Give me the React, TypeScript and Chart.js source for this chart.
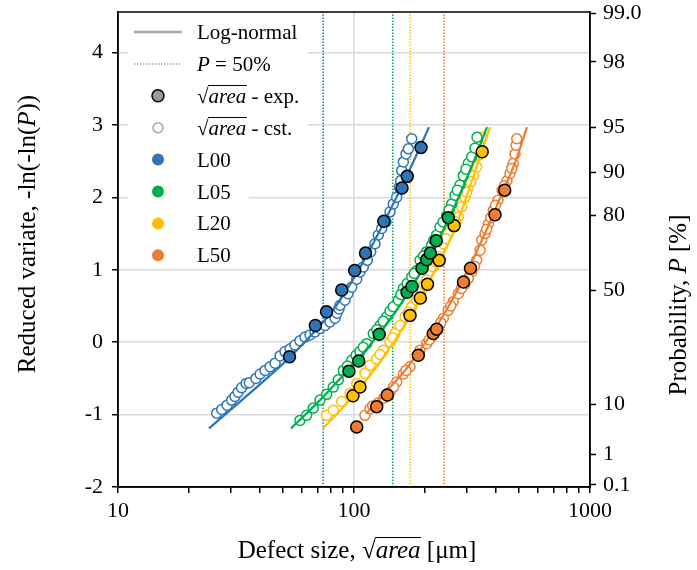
import React, { useEffect, useRef } from 'react';
import { Chart, registerables } from 'chart.js';

Chart.register(...registerables);

const FONT = '"Liberation Serif", "Times New Roman", "DejaVu Serif", serif';
const TICK_FS = 22;
const LEG_FS = 21;
const TITLE_FS = 25;

// ---------- axes ----------
const X_MIN = 10;
const X_MAX = 1000;
const Y_MIN = -2;
const Y_MAX = 4.56;
const xTickValues = [10, 20, 30, 40, 50, 60, 70, 80, 90, 100, 200, 300, 400, 500, 600, 700, 800, 900, 1000];
const xTickLabels = [10, 100, 1000];
const leftTicks = [-2, -1, 0, 1, 2, 3, 4];
const probTickPos = [4.54, 3.87, 2.97, 2.35, 1.75, 0.72, -0.86, -1.55, -1.97];
const probTickLabels = ['99.0', '98', '95', '90', '80', '50', '10', '1', '0.1'];

// ---------- series ----------
const seriesNames = ['L00', 'L05', 'L20', 'L50'];
const seriesColors = ['#2E75B6', '#00B050', '#FFC000', '#ED7D31'];
const p50Size = [74, 146, 173, 241];

// experimental sqrt(area)
const l00ExpX = [53.3, 68.6, 76.5, 88.7, 100.7, 111.9, 133.8, 159.7, 168.1, 192.3];
const l00ExpY = [-0.2, 0.23, 0.42, 0.72, 0.99, 1.23, 1.67, 2.13, 2.29, 2.69];
const l05ExpX = [95.2, 104.7, 127.9, 167.8, 176.1, 194.2, 203.3, 210.6, 223.2, 250.9];
const l05ExpY = [-0.4, -0.26, 0.11, 0.69, 0.77, 1.02, 1.14, 1.23, 1.4, 1.72];
const l20ExpX = [99.0, 106.0, 172.7, 191.0, 204.8, 229.6, 265.5, 349.3];
const l20ExpY = [-0.74, -0.62, 0.37, 0.61, 0.8, 1.13, 1.61, 2.63];
const l50ExpX = [102.7, 124.8, 138.4, 187.3, 216.8, 224.0, 291.1, 311.6, 395.8, 435.1];
const l50ExpY = [-1.17, -0.89, -0.73, -0.18, 0.12, 0.18, 0.83, 1.02, 1.76, 2.1];

// estimated (CT) sqrt(area)
const l00CstX = [26.2, 27.5, 29.0, 30.3, 31.3, 32.3, 33.4, 34.9, 36.0, 38.4, 40.0, 42.0, 44.1, 46.3, 48.6, 51.0, 53.6, 56.2, 59.0, 62.0, 65.1, 68.3, 71.8, 75.4, 79.1, 83.1, 84.7, 86.4, 87.3, 91.6, 94.3, 97.8, 102.7, 106.0, 109.5, 113.9, 117.7, 122.7, 126.8, 131.0, 136.6, 142.1, 146.7, 151.7, 155.6, 157.7, 159.3, 161.8, 166.1, 169.9, 175.6];
const l00CstY = [-0.98, -0.93, -0.87, -0.8, -0.75, -0.69, -0.63, -0.57, -0.56, -0.5, -0.44, -0.39, -0.34, -0.29, -0.19, -0.13, -0.09, -0.04, 0.02, 0.07, 0.1, 0.14, 0.19, 0.23, 0.28, 0.33, 0.4, 0.46, 0.51, 0.58, 0.67, 0.76, 0.87, 0.97, 1.04, 1.13, 1.25, 1.36, 1.48, 1.57, 1.66, 1.8, 1.91, 2.0, 2.14, 2.23, 2.37, 2.49, 2.6, 2.67, 2.81];
const l05CstX = [59.0, 63.0, 67.2, 71.8, 76.6, 81.7, 85.8, 90.1, 97.8, 102.0, 106.0, 113.2, 120.7, 128.9, 137.6, 142.1, 146.7, 154.1, 161.8, 167.8, 175.6, 184.4, 190.4, 203.3, 213.4, 224.0, 231.4, 238.4, 247.1, 259.4, 267.9, 281.3, 290.5, 305.0, 315.3, 325.6, 332.0, 93.8, 109.5, 124.8, 133.1, 158.0, 180.0, 197.0, 218.0, 253.0, 274.0, 298.0];
const l05CstY = [-1.08, -1.01, -0.91, -0.8, -0.72, -0.62, -0.52, -0.39, -0.25, -0.18, -0.13, -0.02, 0.12, 0.23, 0.35, 0.43, 0.49, 0.58, 0.74, 0.81, 0.9, 0.99, 1.13, 1.25, 1.34, 1.48, 1.59, 1.66, 1.75, 1.91, 2.03, 2.17, 2.3, 2.47, 2.56, 2.68, 2.83, -0.33, -0.07, 0.17, 0.29, 0.66, 0.95, 1.19, 1.41, 1.83, 2.1, 2.39];
const l20CstX = [76.6, 81.7, 88.7, 96.2, 102.7, 111.3, 116.9, 124.8, 133.1, 142.1, 149.2, 156.6, 164.5, 175.6, 184.4, 193.6, 203.3, 216.8, 227.7, 239.1, 250.9, 263.5, 276.7, 286.1, 295.4, 305.0, 320.3, 331.1, 335.3, 338.6, 347.6, 129.0, 146.0, 170.0, 198.0, 222.0, 245.0, 270.0, 300.0, 312.0];
const l20CstY = [-1.01, -0.94, -0.82, -0.71, -0.57, -0.43, -0.32, -0.23, -0.11, 0.0, 0.12, 0.23, 0.35, 0.49, 0.58, 0.72, 0.86, 1.04, 1.18, 1.36, 1.5, 1.59, 1.73, 1.87, 2.0, 2.14, 2.3, 2.42, 2.58, 2.72, 2.83, -0.17, 0.06, 0.42, 0.79, 1.11, 1.43, 1.66, 2.07, 2.22];
const l50CstX = [111.3, 116.9, 126.4, 142.1, 151.7, 161.8, 172.7, 190.4, 203.3, 213.4, 227.7, 239.1, 250.9, 263.5, 276.7, 295.4, 315.3, 331.1, 342.0, 347.6, 359.0, 370.7, 389.3, 407.6, 423.8, 444.9, 458.1, 473.2, 481.3, 486.0, 489.4, 120.0, 134.0, 147.0, 166.0, 208.0, 220.0, 233.0, 257.0, 285.0, 305.0, 324.0, 365.0, 380.0, 398.0, 434.0, 466.0];
const l50CstY = [-1.01, -0.92, -0.84, -0.69, -0.55, -0.44, -0.34, -0.11, -0.02, 0.07, 0.21, 0.33, 0.44, 0.56, 0.67, 0.8, 0.97, 1.13, 1.27, 1.41, 1.5, 1.63, 1.82, 1.96, 2.1, 2.23, 2.33, 2.47, 2.6, 2.72, 2.81, -0.88, -0.77, -0.62, -0.39, 0.03, 0.14, 0.27, 0.5, 0.74, 0.88, 1.05, 1.56, 1.72, 1.89, 2.16, 2.4];

// log-normal fits
const l00FitX = [24.3, 36.3, 53.0, 68.3, 83.1, 101.0, 122.7, 149.2, 177.8, 207.9];
const l00FitY = [-1.19, -0.7, -0.22, 0.15, 0.48, 0.91, 1.41, 1.96, 2.48, 2.97];
const l05FitX = [54.1, 71.8, 91.6, 116.9, 149.2, 181.3, 220.4, 267.9, 316.2, 366.2];
const l05FitY = [-1.19, -0.8, -0.43, -0.04, 0.41, 0.83, 1.32, 1.89, 2.44, 2.97];
const l20FitX = [73.9, 91.6, 116.9, 149.2, 181.3, 220.4, 267.9, 316.2, 377.0];
const l20FitY = [-1.19, -0.87, -0.46, 0.03, 0.47, 0.99, 1.57, 2.23, 2.97];
const l50FitX = [112.4, 135.3, 164.5, 200.0, 243.0, 295.4, 358.9, 415.5, 481.3, 541.0];
const l50FitY = [-0.99, -0.7, -0.39, -0.01, 0.41, 0.92, 1.5, 1.99, 2.48, 2.97];

const expX = [l00ExpX, l05ExpX, l20ExpX, l50ExpX];
const expY = [l00ExpY, l05ExpY, l20ExpY, l50ExpY];
const cstX = [l00CstX, l05CstX, l20CstX, l50CstX];
const cstY = [l00CstY, l05CstY, l20CstY, l50CstY];
const fitX = [l00FitX, l05FitX, l20FitX, l50FitX];
const fitY = [l00FitY, l05FitY, l20FitY, l50FitY];

const toPts = (xs: number[], ys: number[]) => xs.map((x, i) => ({ x, y: ys[i] }));

type Part = { t: string; it?: boolean; over?: boolean };

function fontOf(p: Part, fs: number) {
  return `${p.it ? 'italic ' : ''}${fs}px ${FONT}`;
}

function measureParts(ctx: CanvasRenderingContext2D, parts: Part[], fs: number) {
  let total = 0;
  for (const p of parts) {
    ctx.font = fontOf(p, fs);
    total += ctx.measureText(p.t).width;
  }
  return total;
}

function drawParts(ctx: CanvasRenderingContext2D, parts: Part[], x: number, baseline: number, fs: number, align: 'left' | 'center') {
  const total = measureParts(ctx, parts, fs);
  let cx = align === 'center' ? x - total / 2 : x;
  ctx.textAlign = 'left';
  ctx.textBaseline = 'alphabetic';
  ctx.fillStyle = '#000';
  ctx.strokeStyle = '#000';
  for (const p of parts) {
    ctx.font = fontOf(p, fs);
    const w = ctx.measureText(p.t).width;
    ctx.fillText(p.t, cx, baseline);
    if (p.over) {
      ctx.beginPath();
      ctx.lineWidth = 1;
      const oy = Math.round(baseline - 0.86 * fs) + 0.5;
      ctx.moveTo(cx - 0.5, oy);
      ctx.lineTo(cx + w + 0.5, oy);
      ctx.stroke();
    }
    cx += w;
  }
  return total;
}

const overlayPlugin = {
  id: 'overlay',
  afterDraw(chart: any) {
    const ctx: CanvasRenderingContext2D = chart.ctx;
    const a = chart.chartArea;
    ctx.save();

    // legend
    const lx0 = 134, lx1 = 182, mx = 158, tx = 197;
    const rowY = (i: number) => 32 + i * 31.9;
    ctx.fillStyle = '#fff';
    ctx.fillRect(128, 15, 180, 128);
    for (let i = 0; i < 4; i++) {
      ctx.font = `${LEG_FS}px ${FONT}`;
      const w = ctx.measureText(seriesNames[i]).width;
      ctx.fillStyle = '#fff';
      ctx.fillRect(128, rowY(4 + i) - 13, tx - 128 + w + 18, 26);
    }
    const gray = '#A6A6A6';
    const bl = (i: number) => rowY(i) + 7;
    // row 0: log-normal line
    ctx.strokeStyle = gray;
    ctx.lineWidth = 2.5;
    ctx.beginPath();
    ctx.moveTo(lx0, rowY(0));
    ctx.lineTo(lx1, rowY(0));
    ctx.stroke();
    drawParts(ctx, [{ t: 'Log-normal' }], tx, bl(0), LEG_FS, 'left');
    // row 1: dotted
    ctx.strokeStyle = gray;
    ctx.lineWidth = 1.5;
    ctx.setLineDash([1.5, 1.5]);
    ctx.beginPath();
    ctx.moveTo(lx0, rowY(1));
    ctx.lineTo(lx1, rowY(1));
    ctx.stroke();
    ctx.setLineDash([]);
    drawParts(ctx, [{ t: 'P', it: true }, { t: ' = 50%' }], tx, bl(1), LEG_FS, 'left');
    // row 2: exp marker
    ctx.beginPath();
    ctx.arc(mx, rowY(2), 6, 0, Math.PI * 2);
    ctx.fillStyle = '#999999';
    ctx.fill();
    ctx.strokeStyle = '#000';
    ctx.lineWidth = 1.5;
    ctx.stroke();
    drawParts(ctx, [{ t: '\u221A' }, { t: 'area', it: true, over: true }, { t: ' - exp.' }], tx, bl(2), LEG_FS, 'left');
    // row 3: cst marker
    ctx.beginPath();
    ctx.arc(mx, rowY(3), 5, 0, Math.PI * 2);
    ctx.fillStyle = '#fff';
    ctx.fill();
    ctx.strokeStyle = gray;
    ctx.lineWidth = 1.5;
    ctx.stroke();
    drawParts(ctx, [{ t: '\u221A' }, { t: 'area', it: true, over: true }, { t: ' - cst.' }], tx, bl(3), LEG_FS, 'left');
    // rows 4-7: series
    for (let i = 0; i < 4; i++) {
      ctx.beginPath();
      ctx.arc(mx, rowY(4 + i), 6, 0, Math.PI * 2);
      ctx.fillStyle = seriesColors[i];
      ctx.fill();
      drawParts(ctx, [{ t: seriesNames[i] }], tx, bl(4 + i), LEG_FS, 'left');
    }

    // frame
    ctx.strokeStyle = '#000';
    ctx.lineWidth = 1.5;
    ctx.strokeRect(a.left, a.top, a.right - a.left, a.bottom - a.top);

    // axis titles
    ctx.save();
    ctx.translate(27, 234);
    ctx.rotate(-Math.PI / 2);
    drawParts(ctx, [{ t: 'Reduced variate, -ln(-ln(' }, { t: 'P', it: true }, { t: '))' }], 0, 8, TITLE_FS, 'center');
    ctx.restore();

    ctx.save();
    ctx.translate(678, 305);
    ctx.rotate(-Math.PI / 2);
    drawParts(ctx, [{ t: 'Probability, ' }, { t: 'P', it: true }, { t: ' [%]' }], 0, 8, TITLE_FS, 'center');
    ctx.restore();

    drawParts(ctx, [{ t: 'Defect size, \u221A' }, { t: 'area', it: true, over: true }, { t: ' [\u03BCm]' }], 357, 558, TITLE_FS, 'center');

    ctx.restore();
  },
};

const zeroPad = (s: any) => {
  s.paddingTop = 0;
  s.paddingBottom = 0;
  s.paddingLeft = 0;
  s.paddingRight = 0;
};

export default function App() {
  const ref = useRef<HTMLCanvasElement | null>(null);

  useEffect(() => {
    document.body.style.margin = '0';
    const datasets: any[] = [];
    for (let i = 0; i < 4; i++) {
      datasets.push({
        label: `${seriesNames[i]} P50`,
        data: [
          { x: p50Size[i], y: Y_MIN },
          { x: p50Size[i], y: Y_MAX },
        ],
        showLine: true,
        borderColor: seriesColors[i],
        borderWidth: 1.5,
        borderDash: [1.5, 1.5],
        pointRadius: 0,
        order: 4,
      });
    }
    for (let i = 0; i < 4; i++) {
      datasets.push({
        label: `${seriesNames[i]} cst`,
        data: toPts(cstX[i], cstY[i]),
        showLine: false,
        pointRadius: 5,
        pointBorderWidth: 1.5,
        pointBorderColor: seriesColors[i],
        pointBackgroundColor: '#ffffff',
        borderColor: seriesColors[i],
        backgroundColor: '#ffffff',
        order: 3,
      });
    }
    for (let i = 0; i < 4; i++) {
      datasets.push({
        label: `${seriesNames[i]} fit`,
        data: toPts(fitX[i], fitY[i]),
        showLine: true,
        borderColor: seriesColors[i],
        borderWidth: 2.25,
        pointRadius: 0,
        cubicInterpolationMode: 'monotone',
        order: 2,
      });
    }
    for (let i = 0; i < 4; i++) {
      datasets.push({
        label: `${seriesNames[i]} exp`,
        data: toPts(expX[i], expY[i]),
        showLine: false,
        pointRadius: 6,
        pointBorderWidth: 1.5,
        pointBorderColor: '#000',
        pointBackgroundColor: seriesColors[i],
        borderColor: '#000',
        backgroundColor: seriesColors[i],
        order: 1,
      });
    }

    const tickFont = { family: FONT, size: TICK_FS };
    const chart = new Chart(ref.current as HTMLCanvasElement, {
      type: 'scatter',
      data: { datasets },
      options: {
        responsive: false,
        animation: false,
        devicePixelRatio: 1,
        layout: { padding: { top: 12, left: 0, right: 0, bottom: 0 } },
        plugins: { legend: { display: false }, tooltip: { enabled: false } },
        scales: {
          x: {
            type: 'logarithmic',
            position: 'bottom',
            min: X_MIN,
            max: X_MAX,
            afterBuildTicks: (s: any) => {
              s.ticks = xTickValues.map((v) => ({ value: v, major: xTickLabels.includes(v) }));
            },
            afterFit: (s: any) => {
              s.height = 83;
              zeroPad(s);
            },
            ticks: {
              autoSkip: false,
              maxRotation: 0,
              minRotation: 0,
              padding: 5,
              color: '#000',
              font: tickFont,
              callback: (v: any) => (xTickLabels.includes(Number(v)) ? String(v) : ''),
            },
            grid: {
              color: (c: any) => (c.tick && c.tick.value === 100 ? '#D9D9D9' : 'rgba(0,0,0,0)'),
              tickColor: '#000',
              tickLength: 6,
              tickWidth: 1.5,
              lineWidth: 1.5,
            },
            border: { display: true, color: '#000', width: 1.5 },
          },
          y: {
            type: 'linear',
            position: 'left',
            min: Y_MIN,
            max: Y_MAX,
            afterBuildTicks: (s: any) => {
              s.ticks = leftTicks.map((v) => ({ value: v }));
            },
            afterFit: (s: any) => {
              s.width = 118;
              zeroPad(s);
            },
            ticks: { padding: 9, color: '#000', font: tickFont, callback: (v: any) => String(v) },
            grid: {
              color: (c: any) => (c.tick && c.tick.value === Y_MIN ? 'rgba(0,0,0,0)' : '#D9D9D9'),
              tickColor: '#000',
              tickLength: 6,
              tickWidth: 1.5,
              lineWidth: 1.5,
            },
            border: { display: true, color: '#000', width: 1.5 },
          },
          y2: {
            type: 'linear',
            position: 'right',
            min: Y_MIN,
            max: Y_MAX,
            afterBuildTicks: (s: any) => {
              s.ticks = probTickPos.map((v) => ({ value: v }));
            },
            afterFit: (s: any) => {
              s.width = 107;
              zeroPad(s);
            },
            ticks: {
              padding: 7,
              color: '#000',
              font: tickFont,
              callback: (_v: any, i: number) => probTickLabels[i],
            },
            grid: {
              drawOnChartArea: false,
              tickColor: '#000',
              tickLength: 6,
              tickWidth: 1.5,
            },
            border: { display: true, color: '#000', width: 1.5 },
          },
        },
      } as any,
      plugins: [overlayPlugin],
    });
    return () => chart.destroy();
  }, []);

  return <canvas ref={ref} width={697} height={570} style={{ display: 'block', width: 697, height: 570 }} />;
}
